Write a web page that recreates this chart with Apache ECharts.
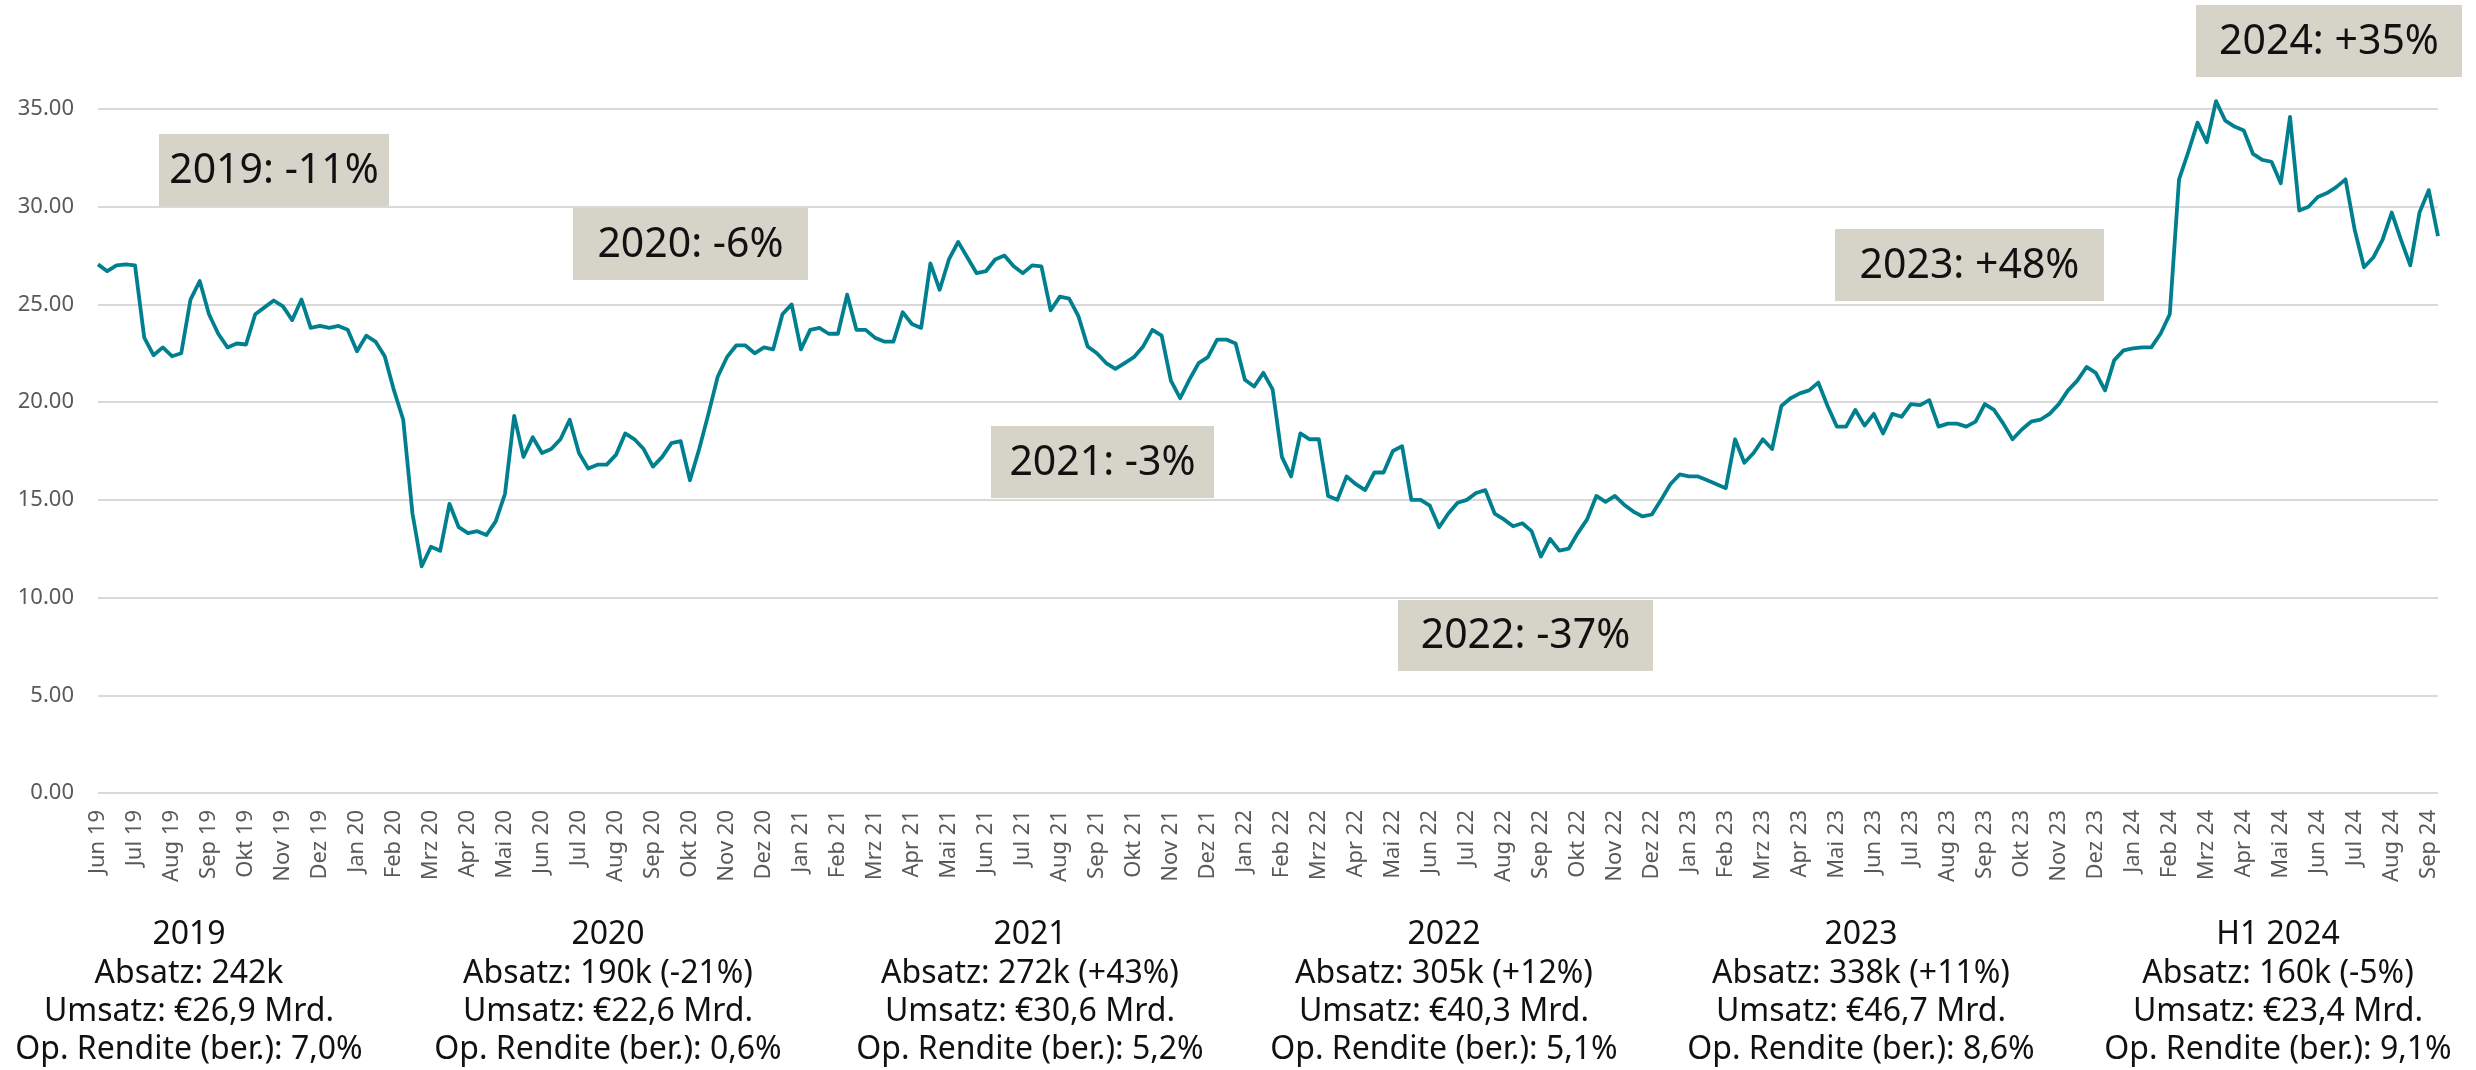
<!DOCTYPE html>
<html lang="de">
<head>
<meta charset="utf-8">
<title>Kursverlauf</title>
<script src="https://cdn.jsdelivr.net/npm/echarts@6/dist/echarts.min.js"></script>
<style>
  html, body { margin: 0; padding: 0; background: #fff; }
  #main { width: 2476px; height: 1070px; }
</style>
</head>
<body>
<div id="main"></div>
<script type="text/javascript">
// Monate auf der x-Achse
var months = ['Jun 19','Jul 19','Aug 19','Sep 19','Okt 19','Nov 19','Dez 19',
  'Jan 20','Feb 20','Mrz 20','Apr 20','Mai 20','Jun 20','Jul 20','Aug 20','Sep 20','Okt 20','Nov 20','Dez 20',
  'Jan 21','Feb 21','Mrz 21','Apr 21','Mai 21','Jun 21','Jul 21','Aug 21','Sep 21','Okt 21','Nov 21','Dez 21',
  'Jan 22','Feb 22','Mrz 22','Apr 22','Mai 22','Jun 22','Jul 22','Aug 22','Sep 22','Okt 22','Nov 22','Dez 22',
  'Jan 23','Feb 23','Mrz 23','Apr 23','Mai 23','Jun 23','Jul 23','Aug 23','Sep 23','Okt 23','Nov 23','Dez 23',
  'Jan 24','Feb 24','Mrz 24','Apr 24','Mai 24','Jun 24','Jul 24','Aug 24','Sep 24'];

// Kurs, ca. woechentlich (4 Werte je Monat)
var prices2019 = [27.05,26.7,27.0,27.05, 27.0,23.3,22.4,22.8, 22.35,22.5,25.25,26.2, 24.5,23.5,22.8,23.0,
  22.95,24.5,24.85,25.2, 24.9,24.2,25.25,23.8, 23.9,23.8,23.9,23.7];
var prices2020 = [22.6,23.4,23.1,22.35, 20.6,19.1,14.3,11.6, 12.6,12.4,14.8,13.6, 13.3,13.4,13.2,13.9,
  15.3,19.3,17.2,18.2, 17.4,17.6,18.1,19.1, 17.4,16.6,16.8,16.8, 17.3,18.4,18.1,17.6,
  16.7,17.2,17.9,18.0, 16.0,17.6,19.4,21.3, 22.3,22.9,22.9,22.5, 22.8,22.7,24.5,25.0];
var prices2021 = [22.7,23.7,23.8,23.5, 23.5,25.5,23.7,23.7, 23.3,23.1,23.1,24.6, 24.0,23.8,27.1,25.75,
  27.3,28.2,27.4,26.6, 26.7,27.3,27.5,26.95, 26.6,27.0,26.95,24.7, 25.4,25.3,24.4,22.85,
  22.5,22.0,21.7,22.0, 22.3,22.85,23.7,23.4, 21.1,20.2,21.15,22.0, 22.3,23.2,23.2,23.0];
var prices2022 = [21.15,20.8,21.5,20.65, 17.2,16.2,18.4,18.1, 18.1,15.2,15.0,16.2, 15.8,15.5,16.4,16.4,
  17.5,17.75,15.0,15.0, 14.7,13.6,14.3,14.85, 15.0,15.35,15.5,14.3, 14.0,13.65,13.8,13.4,
  12.1,13.0,12.4,12.5, 13.3,14.0,15.2,14.9, 15.2,14.75,14.4,14.15, 14.25,15.0,15.8,16.3];
var prices2023 = [16.2,16.2,16.0,15.8, 15.6,18.1,16.9,17.4, 18.1,17.6,19.8,20.2, 20.45,20.6,21.0,19.8,
  18.75,18.75,19.6,18.8, 19.4,18.4,19.4,19.25, 19.9,19.85,20.1,18.75, 18.9,18.9,18.75,19.0,
  19.9,19.6,18.9,18.1, 18.6,19.0,19.1,19.4, 19.9,20.6,21.1,21.8, 21.5,20.6,22.15,22.65];
var prices2024 = [22.75,22.8,22.8,23.5, 24.5,31.4,32.8,34.3, 33.3,35.4,34.4,34.1, 33.9,32.7,32.4,32.3,
  31.2,34.6,29.8,30.0, 30.5,30.7,31.0,31.4, 28.8,26.9,27.4,28.3, 29.7,28.3,27.0,29.7,
  30.85,28.5];

var yTicks = [0, 5, 10, 15, 20, 25, 30, 35];

// Jahresperformance (Kaesten im Chart)
var perfLabels = ['2019: -11%', '2020: -6%', '2021: -3%', '2022: -37%', '2023: +48%', '2024: +35%'];

// Kennzahlen unter dem Chart
var yearTitles = ['2019', '2020', '2021', '2022', '2023', 'H1 2024'];
var absatz = ['242k', '190k (-21%)', '272k (+43%)', '305k (+12%)', '338k (+11%)', '160k (-5%)'];
var umsatz = ['€26,9 Mrd.', '€22,6 Mrd.', '€30,6 Mrd.', '€40,3 Mrd.', '€46,7 Mrd.', '€23,4 Mrd.'];
var rendite = ['7,0%', '0,6%', '5,2%', '5,1%', '8,6%', '9,1%'];

var prices = prices2019.concat(prices2020, prices2021, prices2022, prices2023, prices2024);
var weeks = prices.map(function (p, i) {
  var m = months[Math.floor(i / 4)] || months[months.length - 1];
  return i % 4 === 0 ? m : m + '|' + (i % 4);
});

var FONT = '"Noto Sans", "Open Sans", sans-serif';

// Layout der Kaesten (Pixel)
var boxLayout = [
  [159, 134, 230, 72],
  [573, 208, 235, 72],
  [991, 426, 223, 72],
  [1398, 600, 255, 71],
  [1835, 229, 269, 72],
  [2196, 5, 266, 72]
];
var blockCenters = [189, 608, 1030, 1444, 1861, 2278];

var graphics = [];
perfLabels.forEach(function (t, i) {
  var b = boxLayout[i];
  graphics.push({
    type: 'rect', z: 10,
    shape: { x: b[0], y: b[1], width: b[2], height: b[3] },
    style: { fill: '#d6d4c9' }
  });
  graphics.push({
    type: 'text', z: 11,
    style: {
      text: t, x: b[0] + b[2] / 2, y: b[1] + b[3] / 2 + 1,
      align: 'center', verticalAlign: 'middle',
      fontSize: 41, fontFamily: FONT, fill: '#111'
    }
  });
});
yearTitles.forEach(function (t, i) {
  graphics.push({
    type: 'text',
    style: {
      text: [t, 'Absatz: ' + absatz[i], 'Umsatz: ' + umsatz[i], 'Op. Rendite (ber.): ' + rendite[i]].join('\n'),
      x: blockCenters[i], y: 916,
      align: 'center', verticalAlign: 'top',
      fontSize: 32, lineHeight: 38.3, fontFamily: FONT, fill: '#111'
    }
  });
});

var myChart = echarts.init(document.getElementById('main'));
var option = {
  backgroundColor: '#fff',
  animation: false,
  grid: { left: 98, right: 38, top: 109, bottom: 277 },
  xAxis: {
    type: 'category',
    data: weeks,
    boundaryGap: false,
    axisLine: { show: false },
    axisTick: { show: false },
    axisLabel: {
      interval: function (i) { return i % 4 === 0; },
      rotate: 90,
      margin: 17,
      fontSize: 22,
      fontFamily: FONT,
      color: '#595959',
      formatter: function (v) { return v.split('|')[0]; }
    }
  },
  yAxis: {
    type: 'value',
    min: yTicks[0],
    max: yTicks[yTicks.length - 1],
    interval: 5,
    axisLine: { show: false },
    axisTick: { show: false },
    splitLine: { lineStyle: { color: '#d9d9d9', width: 2 } },
    axisLabel: {
      margin: 24,
      fontSize: 22,
      fontFamily: FONT,
      color: '#595959',
      formatter: function (v) { return v.toFixed(2); }
    }
  },
  series: [{
    type: 'line',
    data: prices,
    showSymbol: false,
    clip: false,
    lineStyle: { color: '#00808e', width: 3.8, join: 'round' },
    itemStyle: { color: '#00808e' }
  }],
  graphic: graphics
};
myChart.setOption(option);
</script>
</body>
</html>
